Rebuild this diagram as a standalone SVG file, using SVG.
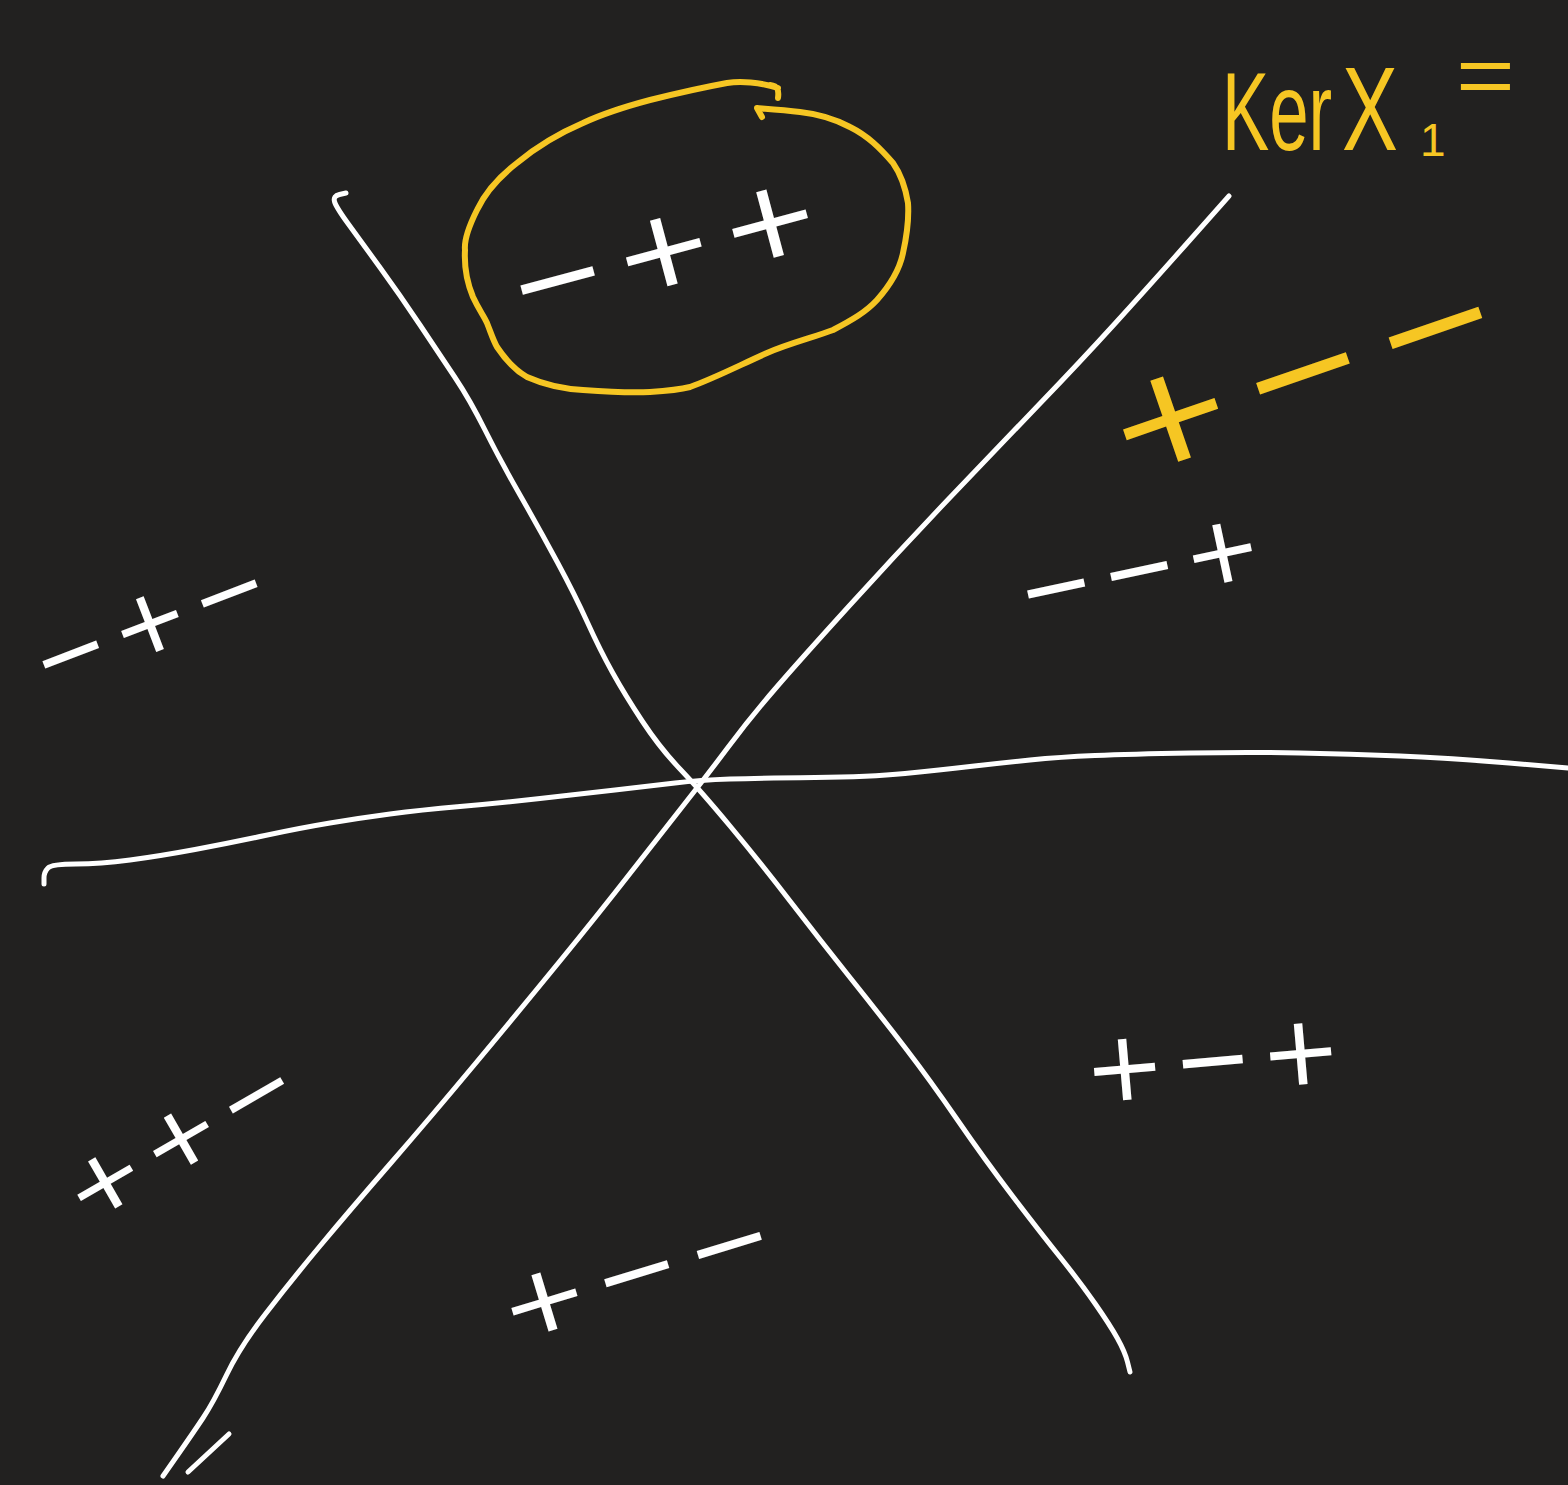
<svg xmlns="http://www.w3.org/2000/svg" width="1568" height="1485" viewBox="0 0 1568 1485">
<style>
.ln{fill:none;stroke:#ffffff;stroke-width:5;stroke-linecap:round;stroke-linejoin:round}
.yl{fill:none;stroke:#f6c623;stroke-width:6;stroke-linecap:round;stroke-linejoin:round}
.sg{font-family:Inter,Roboto,"Liberation Sans",sans-serif;font-weight:300;fill:#ffffff;text-anchor:middle}
.ys{fill:#f6c623}
.kt{font-family:"Liberation Sans",sans-serif}
</style>
<rect width="1568" height="1485" fill="#222120"/>
<g id="connectors">
<path class="ln" d="M346,193 L339.5,194.5 Q333,196 334.5,201.5 Q336,207 348,223.5 Q360,240 380,267.5 Q400,295 420,325 Q440,355 455,377.5 Q470,400 485,430 Q500,460 520,495 Q540,530 557.5,562.5 Q575,595 587.5,622.5 Q600,650 612.5,672.5 Q625,695 642.5,721.5 Q660,748 680,769 Q700,790 730,826 Q760,862 790,901 Q820,940 850,977.5 Q880,1015 905,1047.5 Q930,1080 957.5,1120 Q985,1160 1012.5,1196 Q1040,1232 1060,1257 Q1080,1282 1095,1303.5 Q1110,1325 1117.5,1338.5 Q1125,1352 1127.5,1362 L1130,1372"/>
<path class="ln" d="M1229,196 L1189.5,240.5 Q1150,285 1115,323.5 Q1080,362 1040,403.5 Q1000,445 950,497.5 Q900,550 850,605 Q800,660 775,689 Q750,718 727.5,748 Q705,778 682.5,806.5 Q660,835 630,873.5 Q600,912 560,961 Q520,1010 475,1064 Q430,1118 390,1164 Q350,1210 320,1246 Q290,1282 265,1314.5 Q240,1347 226.5,1375 Q213,1403 203,1418 Q193,1433 178,1454.5 L163,1476"/>
<path class="ln" d="M44,884 L44,878 Q44,872 48,868 Q52,864 76,864 Q100,864 130,860 Q160,856 195,849.5 Q230,843 265,835.5 Q300,828 330,823 Q360,818 390,814 Q420,810 460,806.5 Q500,803 540,798.5 Q580,794 615,790 Q650,786 675,783 Q700,780 730,779 Q760,778 815,777.5 Q870,777 905,773.5 Q940,770 970,766.5 Q1000,763 1030,760 Q1060,757 1095,755.5 Q1130,754 1190,753 Q1250,752 1300,753 Q1350,754 1400,756 Q1450,758 1509,763 L1568,768"/>
<line class="ln" x1="188" y1="1472" x2="229" y2="1434"/>
</g>
<g id="loop">
<path class="yl" d="M770,85 C778,86 779,90 778,98 M778,88 C760,82 740,81 727,83 C700,88 670,95 650,100 C620,108 600,115 583,123 C555,135 535,148 517,163 C495,180 484,195 477,210 C468,228 464,240 465,250 C464,268 468,285 473,297 C479,310 484,316 487,323 C491,333 493,340 497,347 C507,362 515,370 527,377 C545,385 565,389 583,390 C610,392 630,393 650,392 C665,391 678,390 690,387 C715,378 740,365 767,353 C790,343 815,337 833,330 C852,320 866,312 877,300 C892,283 900,268 903,253 C907,235 909,218 908,203 C905,185 900,173 893,163 C880,148 868,136 850,127 C835,119 818,114 800,112 C785,110 770,109 757,108 L762,117"/>
</g>
<g id="ker">
<text class="kt ys" font-size="112" transform="translate(1222 150) scale(0.632 1)">Ker</text>
<text class="kt ys" font-size="118" transform="translate(1342 150) scale(0.71 1)">X</text>
<text class="kt ys" font-size="46" x="1420" y="156">1</text>
<text class="kt ys" font-size="84" transform="translate(1456 104) scale(1.2 1)">=</text>
</g>
<g id="r1"><text class="sg" font-size="150" x="662" y="295" transform="rotate(-15 662 245)" textLength="330" lengthAdjust="spacingAndGlyphs">−++</text></g>
<g id="r2"><text class="sg ys" font-size="190" x="1300" y="428" transform="rotate(-19 1300 365)" textLength="420" lengthAdjust="spacingAndGlyphs">+−−</text></g>
<g id="r3"><text class="sg" font-size="130" x="1138" y="608" transform="rotate(-12 1138 565)" textLength="255" lengthAdjust="spacingAndGlyphs">−−+</text></g>
<g id="r4"><text class="sg" font-size="125" x="148" y="660" transform="rotate(-21 148 619)" textLength="255" lengthAdjust="spacingAndGlyphs">−+−</text></g>
<g id="r5"><text class="sg" font-size="120" x="178" y="1174" transform="rotate(-30 178 1134)" textLength="262" lengthAdjust="spacingAndGlyphs">++−</text></g>
<g id="r6"><text class="sg" font-size="130" x="635" y="1311" transform="rotate(-17 635 1268)" textLength="290" lengthAdjust="spacingAndGlyphs">+−−</text></g>
<g id="r7"><text class="sg" font-size="135" x="1212" y="1100" transform="rotate(-5 1212 1055)" textLength="265" lengthAdjust="spacingAndGlyphs">+−+</text></g>
</svg>
